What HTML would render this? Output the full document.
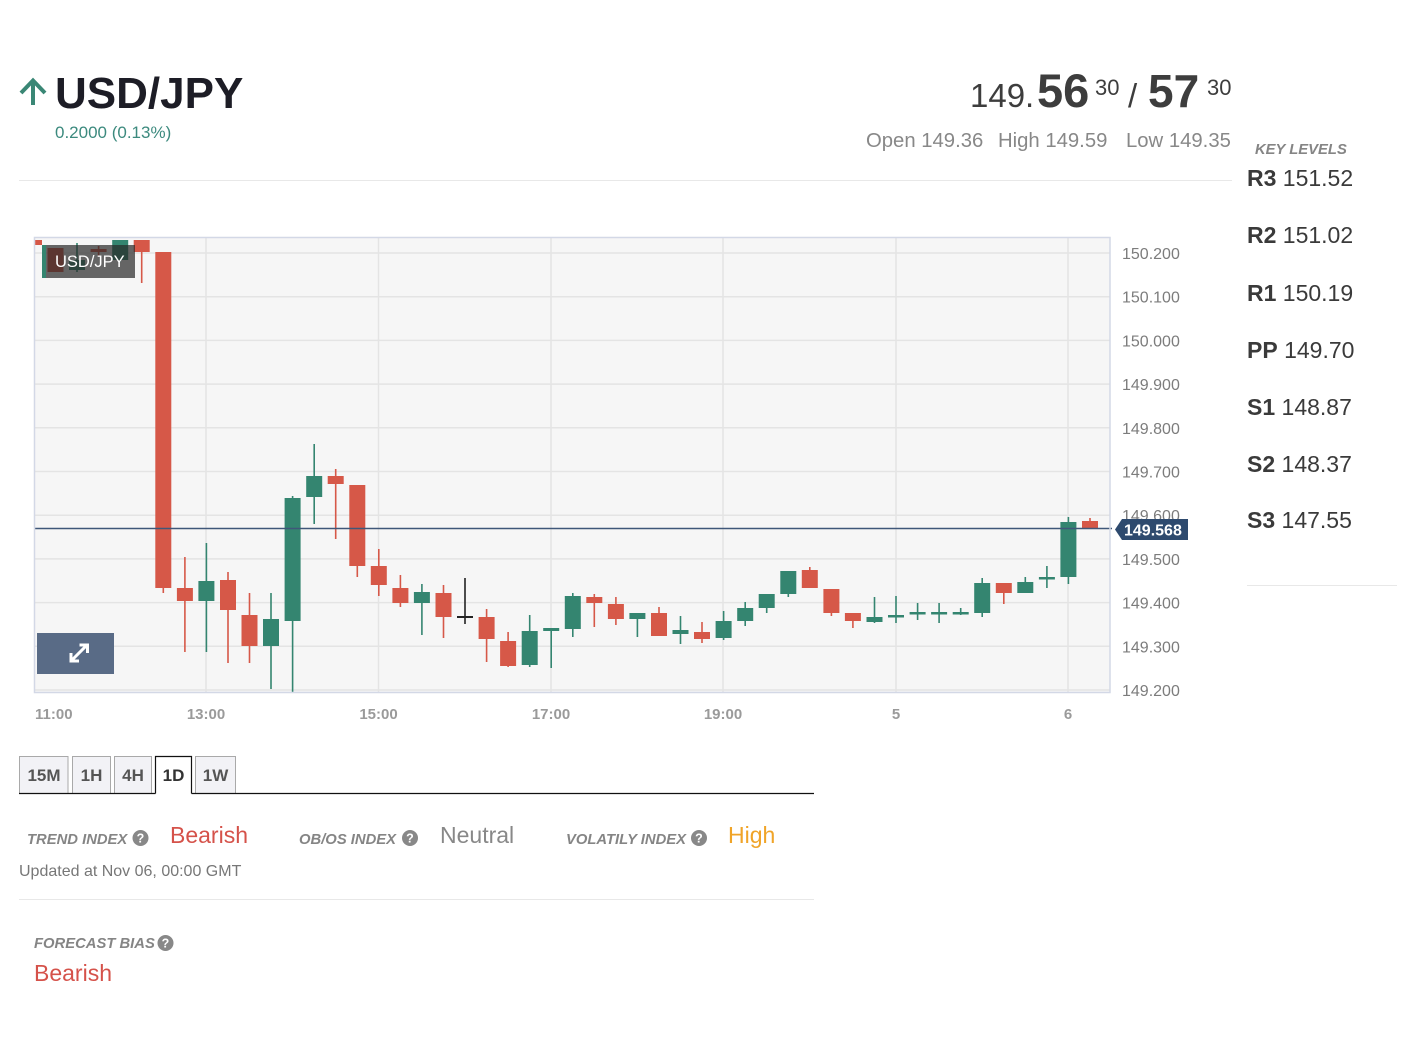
<!DOCTYPE html>
<html>
<head>
<meta charset="utf-8">
<style>
html,body{margin:0;padding:0;background:#fff;}
svg{display:block;}
text{font-family:"Liberation Sans",Arial,sans-serif;}
.r line{stroke:#d65848;stroke-width:1.6}
.r rect{fill:#d65848}
.g line{stroke:#348570;stroke-width:1.6}
.g rect{fill:#348570}
.k line{stroke:#222;stroke-width:1.6}
.k rect{fill:#222}
.ax{font-size:16px;fill:#7c7c7c;}
.xl{font-size:15px;fill:#9a9a9a;font-weight:bold;}
.lvl{font-size:23px;fill:#3a3a3a;}
.lab{font-size:14.8px;fill:#858585;font-weight:bold;font-style:italic;}
.tab{font-size:17px;fill:#555;font-weight:bold;}
</style>
</head>
<body>
<svg width="1405" height="1038" viewBox="0 0 1405 1038" xmlns="http://www.w3.org/2000/svg">
<defs>
<clipPath id="pc"><rect x="34" y="237.5" width="1076" height="455"/></clipPath>
</defs>

<!-- Header -->
<path d="M21,93 L33,80.5 L45,93 M33,80.5 L33,105" fill="none" stroke="#3a8775" stroke-width="4" stroke-linecap="butt" stroke-linejoin="miter"/>
<text x="55" y="108" font-size="44" font-weight="bold" fill="#1d1d26">USD/JPY</text>
<text x="55" y="138" font-size="17" fill="#3c8a7e">0.2000 (0.13%)</text>

<text x="970" y="107" font-size="33" fill="#3d3d3d">149.</text>
<text x="1037" y="107" font-size="47" font-weight="bold" fill="#3d3d3d">56</text>
<text x="1095" y="95" font-size="22" fill="#3d3d3d">30</text>
<text x="1128" y="107" font-size="33" fill="#3d3d3d">/</text>
<text x="1148" y="107" font-size="46" font-weight="bold" fill="#3d3d3d">57</text>
<text x="1207" y="95" font-size="22" fill="#3d3d3d">30</text>

<text x="866" y="147" font-size="20.3" fill="#888">Open 149.36</text>
<text x="998" y="147" font-size="20.3" fill="#888">High 149.59</text>
<text x="1126" y="147" font-size="20.3" fill="#888">Low 149.35</text>

<line x1="19" y1="180.5" x2="1232" y2="180.5" stroke="#e8e8e8" stroke-width="1"/>

<!-- Key levels -->
<text x="1255" y="154" class="lab">KEY LEVELS</text>
<text x="1247" y="186" class="lvl"><tspan font-weight="bold">R3</tspan> 151.52</text>
<text x="1247" y="243" class="lvl"><tspan font-weight="bold">R2</tspan> 151.02</text>
<text x="1247" y="301" class="lvl"><tspan font-weight="bold">R1</tspan> 150.19</text>
<text x="1247" y="358" class="lvl"><tspan font-weight="bold">PP</tspan> 149.70</text>
<text x="1247" y="415" class="lvl"><tspan font-weight="bold">S1</tspan> 148.87</text>
<text x="1247" y="472" class="lvl"><tspan font-weight="bold">S2</tspan> 148.37</text>
<text x="1247" y="528" class="lvl"><tspan font-weight="bold">S3</tspan> 147.55</text>
<line x1="1247" y1="585.5" x2="1397" y2="585.5" stroke="#e8e8e8" stroke-width="1"/>

<!-- Plot area -->
<rect x="34" y="237.5" width="1076" height="455" fill="#f6f6f6"/>
<g stroke="#e4e4e4" stroke-width="1.5">
<line x1="34" y1="253" x2="1110" y2="253"/>
<line x1="34" y1="296.7" x2="1110" y2="296.7"/>
<line x1="34" y1="340.4" x2="1110" y2="340.4"/>
<line x1="34" y1="384.1" x2="1110" y2="384.1"/>
<line x1="34" y1="427.8" x2="1110" y2="427.8"/>
<line x1="34" y1="471.5" x2="1110" y2="471.5"/>
<line x1="34" y1="515.2" x2="1110" y2="515.2"/>
<line x1="34" y1="558.9" x2="1110" y2="558.9"/>
<line x1="34" y1="602.6" x2="1110" y2="602.6"/>
<line x1="34" y1="646.3" x2="1110" y2="646.3"/>
<line x1="34" y1="690" x2="1110" y2="690"/>
<line x1="206" y1="237.5" x2="206" y2="692"/>
<line x1="378.5" y1="237.5" x2="378.5" y2="692"/>
<line x1="551" y1="237.5" x2="551" y2="692"/>
<line x1="723" y1="237.5" x2="723" y2="692"/>
<line x1="896" y1="237.5" x2="896" y2="692"/>
<line x1="1068" y1="237.5" x2="1068" y2="692"/>
</g>

<g clip-path="url(#pc)">
<g class="r"><rect x="26" y="240" width="16" height="5"/></g>
<g class="r"><rect x="47.5" y="248" width="16" height="24"/></g>
<g class="g"><line x1="77" y1="243" x2="77" y2="272"/><rect x="69" y="260" width="16" height="10"/></g>
<g class="r"><line x1="98.6" y1="246" x2="98.6" y2="256"/><rect x="90.6" y="249" width="16" height="3"/></g>
<g class="g"><line x1="120.2" y1="240" x2="120.2" y2="262"/><rect x="112.2" y="240" width="16" height="20"/></g>
<g class="r"><line x1="141.7" y1="240" x2="141.7" y2="283"/><rect x="133.7" y="240" width="16" height="12"/></g>
<g class="r"><line x1="163.3" y1="252" x2="163.3" y2="593"/><rect x="155.3" y="252" width="16" height="336"/></g>
<g class="r"><line x1="184.9" y1="557" x2="184.9" y2="652"/><rect x="176.9" y="588" width="16" height="13"/></g>
<g class="g"><line x1="206.4" y1="543" x2="206.4" y2="652"/><rect x="198.4" y="581" width="16" height="20"/></g>
<g class="r"><line x1="228" y1="572" x2="228" y2="663"/><rect x="220" y="580" width="16" height="30"/></g>
<g class="r"><line x1="249.5" y1="593" x2="249.5" y2="663"/><rect x="241.5" y="615" width="16" height="31"/></g>
<g class="g"><line x1="271" y1="593" x2="271" y2="689"/><rect x="263" y="619" width="16" height="27"/></g>
<g class="g"><line x1="292.6" y1="496" x2="292.6" y2="693"/><rect x="284.6" y="498" width="16" height="123"/></g>
<g class="g"><line x1="314.2" y1="444" x2="314.2" y2="524"/><rect x="306.2" y="476" width="16" height="21"/></g>
<g class="r"><line x1="335.7" y1="469" x2="335.7" y2="539"/><rect x="327.7" y="476" width="16" height="8"/></g>
<g class="r"><line x1="357.3" y1="485" x2="357.3" y2="577"/><rect x="349.3" y="485" width="16" height="81"/></g>
<g class="r"><line x1="378.8" y1="549" x2="378.8" y2="596"/><rect x="370.8" y="566" width="16" height="19"/></g>
<g class="r"><line x1="400.4" y1="575" x2="400.4" y2="607"/><rect x="392.4" y="588" width="16" height="15"/></g>
<g class="g"><line x1="421.9" y1="584" x2="421.9" y2="635"/><rect x="413.9" y="592" width="16" height="11"/></g>
<g class="r"><line x1="443.5" y1="585" x2="443.5" y2="638"/><rect x="435.5" y="593" width="16" height="24"/></g>
<g class="k"><line x1="465" y1="578" x2="465" y2="624"/><rect x="457" y="616" width="16" height="2"/></g>
<g class="r"><line x1="486.6" y1="609" x2="486.6" y2="662"/><rect x="478.6" y="617" width="16" height="22"/></g>
<g class="r"><line x1="508.1" y1="632" x2="508.1" y2="667"/><rect x="500.1" y="641" width="16" height="25"/></g>
<g class="g"><line x1="529.7" y1="615" x2="529.7" y2="667"/><rect x="521.7" y="631" width="16" height="34"/></g>
<g class="g"><line x1="551.2" y1="628" x2="551.2" y2="668"/><rect x="543.2" y="628" width="16" height="3"/></g>
<g class="g"><line x1="572.8" y1="593" x2="572.8" y2="637"/><rect x="564.8" y="596" width="16" height="33"/></g>
<g class="r"><line x1="594.3" y1="594" x2="594.3" y2="627"/><rect x="586.3" y="597" width="16" height="6"/></g>
<g class="r"><line x1="615.9" y1="597" x2="615.9" y2="625"/><rect x="607.9" y="604" width="16" height="15"/></g>
<g class="g"><line x1="637.4" y1="613" x2="637.4" y2="637"/><rect x="629.4" y="613" width="16" height="6"/></g>
<g class="r"><line x1="659" y1="607" x2="659" y2="636"/><rect x="651" y="613" width="16" height="23"/></g>
<g class="g"><line x1="680.5" y1="616" x2="680.5" y2="644"/><rect x="672.5" y="630" width="16" height="4"/></g>
<g class="r"><line x1="702" y1="622" x2="702" y2="643"/><rect x="694" y="632" width="16" height="7"/></g>
<g class="g"><line x1="723.6" y1="611" x2="723.6" y2="640"/><rect x="715.6" y="621" width="16" height="17"/></g>
<g class="g"><line x1="745.2" y1="602" x2="745.2" y2="626"/><rect x="737.2" y="608" width="16" height="13"/></g>
<g class="g"><line x1="766.7" y1="594" x2="766.7" y2="613"/><rect x="758.7" y="594" width="16" height="14"/></g>
<g class="g"><line x1="788.3" y1="571" x2="788.3" y2="597"/><rect x="780.3" y="571" width="16" height="23"/></g>
<g class="r"><line x1="809.8" y1="567" x2="809.8" y2="588"/><rect x="801.8" y="570" width="16" height="18"/></g>
<g class="r"><line x1="831.4" y1="589" x2="831.4" y2="616"/><rect x="823.4" y="589" width="16" height="24"/></g>
<g class="r"><line x1="852.9" y1="613" x2="852.9" y2="628"/><rect x="844.9" y="613" width="16" height="8"/></g>
<g class="g"><line x1="874.5" y1="597" x2="874.5" y2="623"/><rect x="866.5" y="617" width="16" height="5"/></g>
<g class="g"><line x1="896" y1="596" x2="896" y2="623"/><rect x="888" y="615" width="16" height="2.5"/></g>
<g class="g"><line x1="917.6" y1="603" x2="917.6" y2="620"/><rect x="909.6" y="612" width="16" height="2.5"/></g>
<g class="g"><line x1="939.1" y1="603" x2="939.1" y2="623"/><rect x="931.1" y="612" width="16" height="2.5"/></g>
<g class="g"><line x1="960.7" y1="608" x2="960.7" y2="615"/><rect x="952.7" y="612" width="16" height="2.5"/></g>
<g class="g"><line x1="982.2" y1="578" x2="982.2" y2="617"/><rect x="974.2" y="583" width="16" height="30"/></g>
<g class="r"><line x1="1003.8" y1="583" x2="1003.8" y2="604"/><rect x="995.8" y="583" width="16" height="10"/></g>
<g class="g"><line x1="1025.3" y1="577" x2="1025.3" y2="593"/><rect x="1017.3" y="582" width="16" height="11"/></g>
<g class="g"><line x1="1046.9" y1="566" x2="1046.9" y2="588"/><rect x="1038.9" y="577" width="16" height="2.5"/></g>
<g class="g"><line x1="1068.4" y1="517" x2="1068.4" y2="584"/><rect x="1060.4" y="522" width="16" height="55"/></g>
<g class="r"><line x1="1090" y1="518" x2="1090" y2="528"/><rect x="1082" y="521" width="16" height="7"/></g>
</g>

<!-- price line -->
<line x1="34" y1="528.5" x2="1112" y2="528.5" stroke="#3f5779" stroke-width="1.5"/>

<!-- plot border -->
<rect x="34.5" y="237.5" width="1075.5" height="455" fill="none" stroke="#d3d8e6" stroke-width="1.5"/>

<!-- chart label -->
<rect x="42" y="245" width="93" height="33" fill="rgba(40,40,40,0.7)"/>
<rect x="42" y="245" width="4" height="33" fill="#348570"/>
<text x="55" y="267" font-size="16.5" fill="#fff">USD/JPY</text>

<!-- expand button -->
<rect x="37" y="633" width="77" height="41" fill="#596b86"/>
<g stroke="#fff" stroke-width="3" fill="none" stroke-linecap="square">
<line x1="73" y1="659" x2="85" y2="647"/>
<path d="M81,645 L87.5,645 L87.5,651.5"/>
<path d="M71,654.5 L71,661 L77.5,661"/>
</g>

<!-- y axis labels -->
<text x="1122" y="259" class="ax">150.200</text>
<text x="1122" y="302.7" class="ax">150.100</text>
<text x="1122" y="346.4" class="ax">150.000</text>
<text x="1122" y="390.1" class="ax">149.900</text>
<text x="1122" y="433.8" class="ax">149.800</text>
<text x="1122" y="477.5" class="ax">149.700</text>
<text x="1122" y="521.2" class="ax">149.600</text>
<text x="1122" y="564.9" class="ax">149.500</text>
<text x="1122" y="608.6" class="ax">149.400</text>
<text x="1122" y="652.3" class="ax">149.300</text>
<text x="1122" y="696" class="ax">149.200</text>

<!-- price tag -->
<path d="M1115,529.5 L1122,519 L1188,519 L1188,540 L1122,540 Z" fill="#2e4a6e"/>
<text x="1124" y="535.5" font-size="16" font-weight="bold" fill="#fff">149.568</text>

<!-- x axis labels -->
<text x="35" y="719" class="xl">11:00</text>
<text x="206" y="719" class="xl" text-anchor="middle">13:00</text>
<text x="378.5" y="719" class="xl" text-anchor="middle">15:00</text>
<text x="551" y="719" class="xl" text-anchor="middle">17:00</text>
<text x="723" y="719" class="xl" text-anchor="middle">19:00</text>
<text x="896" y="719" class="xl" text-anchor="middle">5</text>
<text x="1068" y="719" class="xl" text-anchor="middle">6</text>

<!-- tabs -->
<g stroke="#a9a9a9" stroke-width="1" fill="#f2f2f6">
<rect x="19.5" y="756.5" width="48.5" height="37"/>
<rect x="72.5" y="756.5" width="38" height="37"/>
<rect x="114.5" y="756.5" width="37" height="37"/>
<rect x="195.5" y="756.5" width="40" height="37"/>
</g>
<rect x="155.5" y="756.5" width="36" height="37" fill="#fff"/>
<path d="M155.5,793.5 V756.5 H191.5 V793.5" fill="none" stroke="#111" stroke-width="1.2"/>
<line x1="19" y1="793.5" x2="155.5" y2="793.5" stroke="#111" stroke-width="1.2"/>
<line x1="191.5" y1="793.5" x2="814" y2="793.5" stroke="#111" stroke-width="1.2"/>
<text x="44" y="781" class="tab" text-anchor="middle">15M</text>
<text x="91.5" y="781" class="tab" text-anchor="middle">1H</text>
<text x="133" y="781" class="tab" text-anchor="middle">4H</text>
<text x="173.5" y="781" class="tab" text-anchor="middle" style="fill:#333">1D</text>
<text x="215.5" y="781" class="tab" text-anchor="middle">1W</text>

<!-- indices -->
<text x="27" y="844" class="lab">TREND INDEX</text>
<circle cx="140.5" cy="838" r="8" fill="#888"/>
<text x="140.5" y="842.5" font-size="12.5" font-weight="bold" fill="#fff" text-anchor="middle">?</text>
<text x="170" y="843" font-size="23" fill="#d5524a">Bearish</text>

<text x="299" y="844" class="lab">OB/OS INDEX</text>
<circle cx="410" cy="838" r="8" fill="#888"/>
<text x="410" y="842.5" font-size="12.5" font-weight="bold" fill="#fff" text-anchor="middle">?</text>
<text x="440" y="843" font-size="23" fill="#888">Neutral</text>

<text x="566" y="844" class="lab">VOLATILY INDEX</text>
<circle cx="699" cy="838" r="8" fill="#888"/>
<text x="699" y="842.5" font-size="12.5" font-weight="bold" fill="#fff" text-anchor="middle">?</text>
<text x="728" y="843" font-size="23" fill="#f0a428">High</text>

<text x="19" y="876" font-size="16" fill="#777">Updated at Nov 06, 00:00 GMT</text>
<line x1="19" y1="899.5" x2="814" y2="899.5" stroke="#e8e8e8" stroke-width="1"/>

<text x="34" y="948" class="lab">FORECAST BIAS</text>
<circle cx="165.5" cy="943" r="8" fill="#888"/>
<text x="165.5" y="947.5" font-size="12.5" font-weight="bold" fill="#fff" text-anchor="middle">?</text>
<text x="34" y="981" font-size="23" fill="#d5524a">Bearish</text>
</svg>
</body>
</html>
